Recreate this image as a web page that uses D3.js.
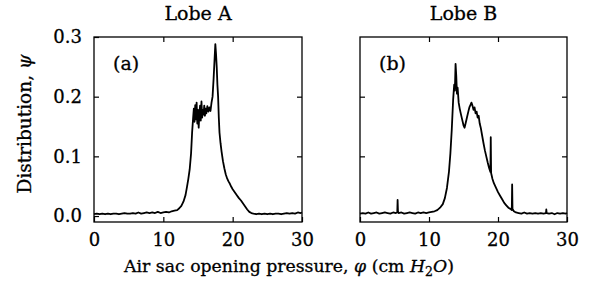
<!DOCTYPE html>
<html><head><meta charset="utf-8">
<script src="https://cdn.jsdelivr.net/npm/d3@7"></script>
<style>body{margin:0;background:#fff}svg{display:block}text{font-family:"DejaVu Serif",serif !important;fill:#000;stroke:#000;stroke-width:0.3px}</style>
</head><body><svg id="c" width="592" height="299"></svg>
<script>
const titles = ["Lobe A", "Lobe B"];
const panelTags = ["(a)", "(b)"];
const xTicks = [0, 10, 20, 30];
const yTicks = [0.0, 0.1, 0.2, 0.3];

const phiA = [0,0.4,0.8,1.2,1.6,2.0,2.4,2.8,3.2,3.6,4.0,4.4,4.8,5.2,5.6,6.0,6.4,6.8,7.2,7.6,8.0,8.4,8.8,9.2,9.6,10.0,10.4,10.8,11.2,11.6,12.0,12.3,12.6,12.9,13.2,13.4,13.6,13.8,14.0,14.15,14.3,14.4,14.5,14.6,14.7,14.8,14.9,15.0,15.1,15.2,15.3,15.4,15.5,15.6,15.7,15.8,15.9,16.0,16.1,16.2,16.35,16.5,16.65,16.8,16.95,17.1,17.25,17.4,17.5,17.6,17.7,17.8,17.9,18.0,18.1,18.25,18.4,18.6,18.8,19.0,19.2,19.4,19.6,19.8,20.0,20.3,20.6,20.9,21.2,21.5,21.8,22.1,22.4,22.7,23.0,23.4,23.8,24.2,24.6,25.0,25.4,25.8,26.2,26.6,27.0,27.4,27.8,28.2,28.6,29.0,29.4,29.8,30];
const psiA = [0.003,0.004,0.003,0.004,0.003,0.004,0.003,0.004,0.004,0.003,0.004,0.005,0.004,0.004,0.005,0.004,0.006,0.004,0.005,0.006,0.005,0.006,0.005,0.007,0.005,0.006,0.007,0.006,0.008,0.009,0.010,0.013,0.017,0.024,0.035,0.048,0.062,0.078,0.105,0.14,0.165,0.18,0.158,0.186,0.162,0.19,0.155,0.178,0.148,0.172,0.185,0.16,0.192,0.165,0.178,0.17,0.185,0.168,0.18,0.172,0.184,0.175,0.182,0.176,0.19,0.2,0.23,0.265,0.288,0.272,0.25,0.22,0.2,0.165,0.14,0.122,0.108,0.092,0.08,0.07,0.063,0.058,0.054,0.049,0.045,0.04,0.035,0.03,0.026,0.021,0.016,0.011,0.007,0.005,0.004,0.003,0.004,0.003,0.004,0.003,0.004,0.003,0.004,0.004,0.003,0.004,0.005,0.004,0.005,0.004,0.006,0.005,0.006];

const phiB = [0,0.4,0.8,1.2,1.6,2.0,2.4,2.8,3.2,3.6,4.0,4.4,4.8,5.2,5.4,5.45,5.5,5.6,6.0,6.4,6.8,7.2,7.6,8.0,8.4,8.8,9.2,9.6,10.0,10.4,10.8,11.2,11.6,12.0,12.3,12.6,12.9,13.1,13.3,13.5,13.65,13.75,13.85,13.95,14.05,14.15,14.3,14.45,14.6,14.8,15.0,15.15,15.3,15.5,15.7,15.85,16.0,16.15,16.3,16.45,16.6,16.75,16.9,17.05,17.2,17.35,17.5,17.7,17.9,18.1,18.3,18.5,18.7,18.9,18.95,19.0,19.2,19.4,19.6,19.8,20.0,20.3,20.6,20.9,21.2,21.5,21.8,22.0,22.05,22.1,22.3,22.6,23.0,23.4,23.8,24.2,24.6,25.0,25.4,25.8,26.2,26.6,26.95,27.0,27.05,27.4,27.8,28.2,28.6,29.0,29.4,29.8,30];
const psiB = [0.004,0.005,0.004,0.006,0.004,0.005,0.006,0.004,0.005,0.006,0.005,0.004,0.006,0.005,0.006,0.027,0.008,0.005,0.006,0.004,0.005,0.006,0.005,0.004,0.006,0.005,0.006,0.005,0.006,0.007,0.008,0.010,0.014,0.020,0.030,0.047,0.075,0.105,0.145,0.195,0.22,0.21,0.255,0.235,0.205,0.215,0.19,0.18,0.172,0.162,0.152,0.148,0.155,0.165,0.175,0.182,0.186,0.19,0.185,0.178,0.182,0.172,0.175,0.165,0.168,0.155,0.148,0.135,0.122,0.11,0.10,0.09,0.081,0.074,0.132,0.072,0.062,0.055,0.050,0.045,0.040,0.034,0.028,0.022,0.018,0.014,0.012,0.010,0.053,0.012,0.008,0.006,0.005,0.004,0.006,0.004,0.005,0.004,0.005,0.004,0.005,0.004,0.005,0.011,0.005,0.004,0.005,0.003,0.005,0.004,0.005,0.004,0.005];

const svg = d3.select("#c");
const panels = [
  {left: 94, right: 302, phi: phiA, psi: psiA, showY: true},
  {left: 360, right: 567, phi: phiB, psi: psiB, showY: false}
];
const plotTop = 37, plotBottom = 222;
const y = d3.scaleLinear().domain([-0.01, 0.3]).range([plotBottom, plotTop]);

panels.forEach((p, i) => {
  const x = d3.scaleLinear().domain([0, 30]).range([p.left, p.right]);
  const g = svg.append("g");
  g.append("rect").attr("x", p.left).attr("y", plotTop).attr("width", p.right - p.left).attr("height", plotBottom - plotTop)
    .attr("fill", "none").attr("stroke", "#000").attr("stroke-width", 1.3);
  const tl = 5;
  const bx = g.append("g").attr("transform", `translate(0,${plotBottom})`)
    .call(d3.axisBottom(x).tickValues(xTicks).tickSize(-tl).tickPadding(11).tickFormat(d3.format("d")));
  const tx = g.append("g").attr("transform", `translate(0,${plotTop})`)
    .call(d3.axisTop(x).tickValues([10, 20]).tickSize(-tl).tickFormat(""));
  const ly = g.append("g").attr("transform", `translate(${p.left},0)`)
    .call(d3.axisLeft(y).tickValues(p.showY ? yTicks : [0.1, 0.2]).tickSize(-tl).tickPadding(12).tickFormat(p.showY ? d3.format(".1f") : ""));
  const ry = g.append("g").attr("transform", `translate(${p.right},0)`)
    .call(d3.axisRight(y).tickValues([0.1, 0.2]).tickSize(-tl).tickFormat(""));
  [bx, tx, ly, ry].forEach(a => {
    a.attr("font-family", null).attr("font-size", null);
    a.select(".domain").remove();
    a.selectAll("line").attr("stroke", "#000").attr("stroke-width", 1.2);
    a.selectAll("text").style("font-size", "18px").attr("fill", "#000");
  });
  const line = d3.line().x((d, k) => x(p.phi[k])).y(d => y(d));
  g.append("path").datum(p.psi).attr("d", line).attr("fill", "none")
    .attr("stroke", "#000").attr("stroke-width", 1.8).attr("stroke-linejoin", "round");
  g.append("text").attr("x", (p.left + p.right) / 2).attr("y", 20).attr("text-anchor", "middle")
    .style("font-size", "19px").text(titles[i]);
  g.append("text").attr("x", p.left + 19).attr("y", 70).style("font-size", "19px").text(panelTags[i]);
});

const xt = svg.append("text").attr("x", 289).attr("y", 272).attr("text-anchor", "middle").style("font-size", "17.3px");
xt.append("tspan").text("Air sac opening pressure, ");
xt.append("tspan").style("font-style", "italic").text("φ");
xt.append("tspan").text(" (cm ");
xt.append("tspan").style("font-style", "italic").text("H");
xt.append("tspan").style("font-size", "12.5px").attr("dy", 4).text("2");
xt.append("tspan").style("font-style", "italic").attr("dy", -4).text("O");
xt.append("tspan").text(")");

const yt = svg.append("text").attr("transform", "translate(31,124) rotate(-90)").attr("text-anchor", "middle").style("font-size", "18.5px");
yt.append("tspan").text("Distribution, ");
yt.append("tspan").style("font-style", "italic").text("ψ");
</script></body></html>
